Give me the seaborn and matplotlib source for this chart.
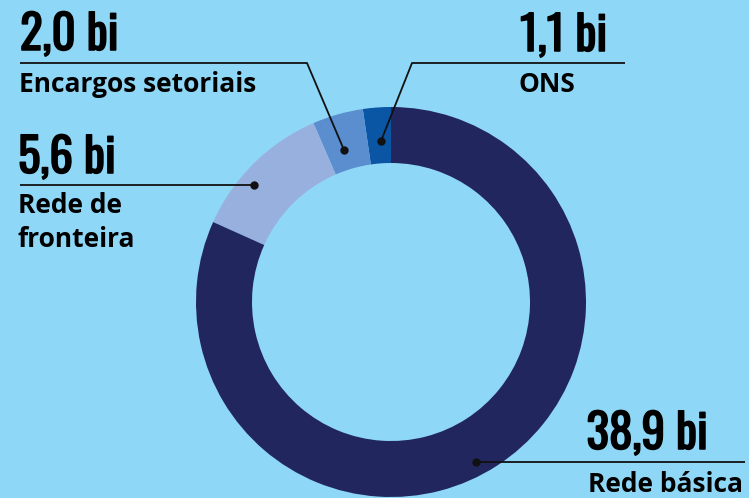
import matplotlib
matplotlib.use("Agg")
import matplotlib.pyplot as plt
import matplotlib.patheffects as pe
import seaborn as sns

# ---- data ----
categories = ["ONS", "Encargos setoriais", "Rede de fronteira", "Rede básica"]
values = [1.1, 2.0, 5.6, 38.9]
value_labels = ["1,1 bi", "2,0 bi", "5,6 bi", "38,9 bi"]

colors = ["#0B55A5", "#5A8ECF", "#98B0DE", "#22265E"]
BG = "#8ED7F7"

sns.set_theme(style="white")
plt.rcParams["font.family"] = ["Open Sans", "DejaVu Sans"]

W, H = 749, 498
fig = plt.figure(figsize=(W / 100, H / 100), dpi=100, facecolor=BG)
ax = fig.add_axes([0, 0, 1, 1])
ax.set_facecolor(BG)

def Y(p):
    return H - p

cx, cy, R, RW = 391, 302, 195, 56
ax.pie(values, colors=colors, startangle=90, counterclock=True,
       radius=R, center=(cx, Y(cy)),
       wedgeprops=dict(width=RW, linewidth=0, antialiased=True))
ax.set_xlim(0, W)
ax.set_ylim(0, H)
ax.set_aspect("equal")
ax.axis("off")

thick = [pe.withStroke(linewidth=1.1, foreground="black")]
numfont = dict(family=["Oswald", "DejaVu Sans"], fontweight="normal",
               fontsize=34, color="black", va="baseline", path_effects=thick)
labfont = dict(family=["Open Sans", "DejaVu Sans"], fontweight="bold",
               fontsize=19, color="black", va="baseline")
lc = "#111111"

def leader(points, dot):
    xs = [p[0] for p in points]
    ys = [Y(p[1]) for p in points]
    ax.plot(xs, ys, color=lc, lw=1.3, solid_capstyle="butt", zorder=5)
    ax.plot([dot[0]], [Y(dot[1])], "o", color=lc, ms=5, zorder=6)

# ONS
ax.text(520, Y(51), value_labels[0], ha="left", **numfont)
ax.text(519, Y(92), categories[0], ha="left", **labfont)
leader([(625, 63), (412, 63), (381, 141)], (381, 141))

# Encargos setoriais
ax.text(20, Y(50), value_labels[1], ha="left", **numfont)
ax.text(19, Y(92), categories[1], ha="left", **labfont)
leader([(20, 63), (307, 63), (344, 150)], (344, 150))

# Rede de fronteira
ax.text(18, Y(173), value_labels[2], ha="left", **numfont)
ax.text(18, Y(213), "Rede de", ha="left", **labfont)
ax.text(18, Y(247), "fronteira", ha="left", **labfont)
leader([(20, 185), (254, 185)], (254, 185))

# Rede básica
ax.text(708, Y(449), value_labels[3], ha="right", **numfont)
ax.text(743, Y(492), categories[3], ha="right", **labfont)
leader([(476, 462), (745, 462)], (476, 462))

fig.savefig("out.png", dpi=100, facecolor=BG)
